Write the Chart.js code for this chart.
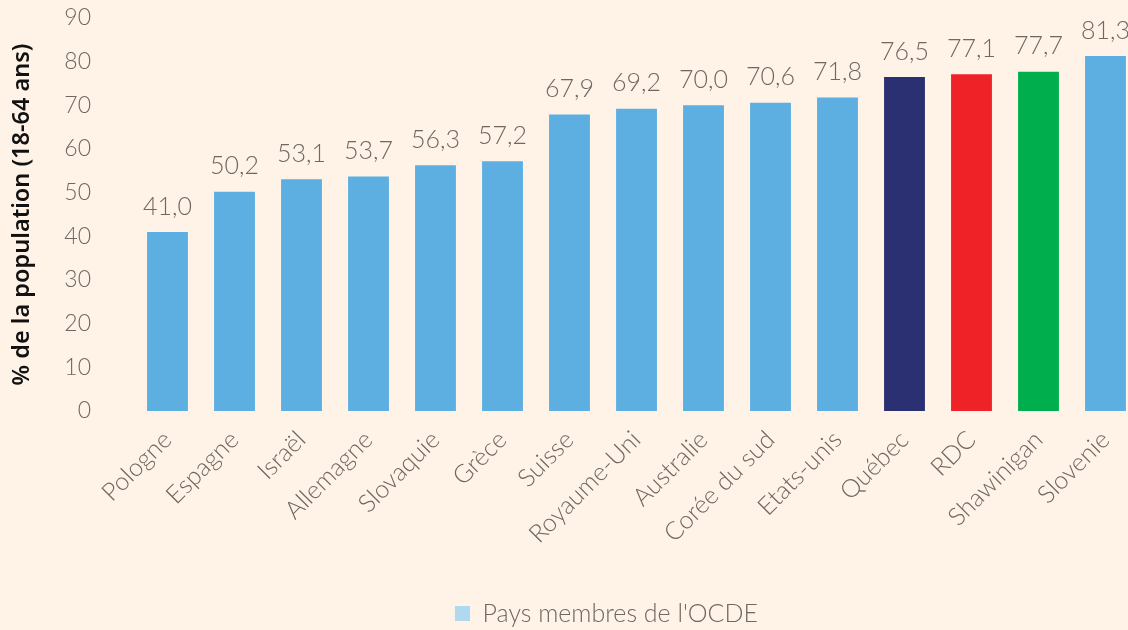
<!DOCTYPE html>
<html lang="fr">
<head>
<meta charset="utf-8">
<title>Pays membres de l'OCDE</title>
<script src="https://cdn.jsdelivr.net/npm/chart.js@4"></script>
<style>
    html, body { margin: 0; padding: 0; background: #fff3e8; overflow: hidden; }
    #wrap { width: 1139px; height: 630px; position: relative; }
</style>
</head>
<body>
<div id="wrap"><canvas id="ocdeChart"></canvas></div>
<script>
// données du graphique
const pays = ['Pologne', 'Espagne', 'Israël', 'Allemagne', 'Slovaquie', 'Grèce', 'Suisse',
    'Royaume-Uni', 'Australie', 'Corée du sud', 'Etats-unis', 'Québec', 'RDC', 'Shawinigan', 'Slovenie'];
const pourcentages = [41.0, 50.2, 53.1, 53.7, 56.3, 57.2, 67.9, 69.2, 70.0, 70.6, 71.8, 76.5, 77.1, 77.7, 81.3];
const couleurs = ['#5dafe1', '#5dafe1', '#5dafe1', '#5dafe1', '#5dafe1', '#5dafe1', '#5dafe1',
    '#5dafe1', '#5dafe1', '#5dafe1', '#5dafe1', '#2b3072', '#ee2227', '#00ae4e', '#5dafe1'];

const gris = '#6e6762';
const policeFine = "'Lato', 'Open Sans', sans-serif";

// étiquettes de valeur au-dessus des barres
const etiquettesValeurs = {
    id: 'etiquettesValeurs',
    // l'axe y repart du bord gauche (la marge gauche ne sert qu'à centrer la légende)
    afterLayout(chart) {
        chart.scales.y.left = 0;
    },
    afterDatasetsDraw(chart) {
        const ctx = chart.ctx;
        const meta = chart.getDatasetMeta(0);
        ctx.save();
        ctx.font = '300 25px ' + policeFine;
        ctx.fillStyle = gris;
        ctx.textAlign = 'center';
        ctx.textBaseline = 'bottom';
        meta.data.forEach((bar, i) => {
            const txt = pourcentages[i].toFixed(1).replace('.', ',');
            ctx.fillText(txt, bar.x, bar.y - 13);
        });
        ctx.restore();
    }
};

function initChart() {
    const ctx = document.getElementById('ocdeChart').getContext('2d');

    new Chart(ctx, {
        type: 'bar',
        data: {
            labels: pays,
            datasets: [{
                label: "Pays membres de l'OCDE",
                data: pourcentages,
                backgroundColor: couleurs,
                barPercentage: 0.61,
                categoryPercentage: 1
            }]
        },
        options: {
            responsive: true,
            maintainAspectRatio: false,
            animation: false,
            layout: {
                padding: { left: 74, right: 0, top: 18, bottom: -6 }
            },
            scales: {
                x: {
                    grid: { display: false, drawTicks: false },
                    border: { display: false },
                    ticks: {
                        color: gris,
                        font: { family: policeFine, size: 25, weight: 300 },
                        minRotation: 45,
                        maxRotation: 45,
                        padding: 14
                    },
                    // hauteur fixe de l'axe, sans marge pour les étiquettes inclinées
                    afterFit(scale) {
                        scale.height = 189;
                        scale.paddingLeft = 0;
                        scale.paddingRight = 0;
                    }
                },
                y: {
                    min: 0,
                    max: 90,
                    grid: { display: false, drawTicks: false },
                    border: { display: false },
                    ticks: {
                        stepSize: 10,
                        color: gris,
                        font: { family: policeFine, size: 23, weight: 300 },
                        padding: 43
                    },
                    title: {
                        display: true,
                        text: '% de la population (18-64 ans)',
                        color: '#111111',
                        font: { family: "'Noto Sans', sans-serif", size: 23.5, weight: 600 },
                        padding: { top: 8, bottom: 0 }
                    },
                    afterFit(scale) {
                        scale.width = 60;
                        scale.paddingTop = 0;
                        scale.paddingBottom = 0;
                    }
                }
            },
            plugins: {
                legend: {
                    position: 'bottom',
                    labels: {
                        color: gris,
                        font: { family: policeFine, size: 25, weight: 300 },
                        boxWidth: 15,
                        boxHeight: 15,
                        padding: 1,
                        generateLabels: () => [{
                            text: "Pays membres de l'OCDE",
                            fillStyle: '#b0d8ee',
                            strokeStyle: '#b0d8ee',
                            lineWidth: 0,
                            fontColor: gris,
                            datasetIndex: 0
                        }]
                    }
                },
                tooltip: { enabled: false }
            }
        },
        plugins: [etiquettesValeurs]
    });
}

document.addEventListener('DOMContentLoaded', initChart);
</script>
</body>
</html>
